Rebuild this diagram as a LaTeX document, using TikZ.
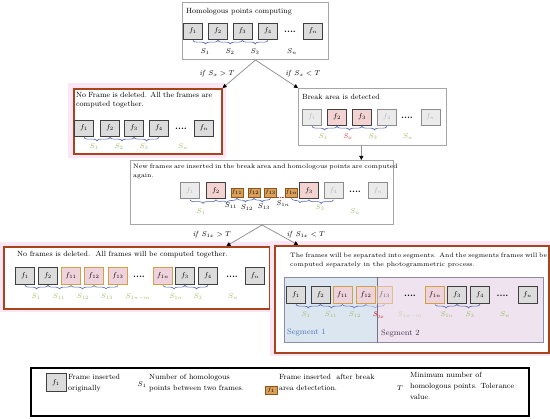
\documentclass[tikz,border=0pt]{standalone}
\usetikzlibrary{arrows.meta,decorations.pathreplacing,calc}
\definecolor{boxgray}{HTML}{A6A6A6}
\definecolor{boxred}{HTML}{A8441C}
\definecolor{halo}{HTML}{FCE6F6}
\definecolor{frb}{HTML}{404040}
\definecolor{frf}{HTML}{DCDCDC}
\definecolor{fadeb}{HTML}{8C8C8C}
\definecolor{fadef}{HTML}{EBEBEB}
\definecolor{fadet}{HTML}{B4B4B4}
\definecolor{pinkf}{HTML}{F3D2D2}
\definecolor{smb}{HTML}{8E5418}
\definecolor{smf}{HTML}{D9A05B}
\definecolor{insb}{HTML}{D2A048}
\definecolor{insf}{HTML}{EFD3DC}
\definecolor{bracecol}{HTML}{5468B4}
\definecolor{sgreen}{HTML}{9BBB59}
\definecolor{sred}{HTML}{D03A3A}
\definecolor{lineg}{HTML}{8A8A8A}
\definecolor{seg1f}{HTML}{DCE6F1}
\definecolor{seg2f}{HTML}{EEE3EE}
\definecolor{segb}{HTML}{8C8CA8}
\definecolor{seg1t}{HTML}{4A78B8}
\definecolor{seg2t}{HTML}{4A3458}
\begin{document}
\begin{tikzpicture}[x=1pt,y=-1pt,
 graybox/.style={draw=boxgray, line width=1pt, fill=white, inner sep=0},
 redbox/.style={draw=boxred, line width=1.6pt, fill=white, inner sep=0},
 fr/.style={draw=frb, fill=frf, line width=0.8pt, minimum width=19pt, minimum height=16pt, inner sep=0, font=\fontsize{7}{8}\selectfont},
 frfade/.style={fr, draw=fadeb, fill=fadef, text=fadet},
 frpink/.style={fr, fill=pinkf},
 frsm/.style={draw=smb, fill=smf, line width=0.7pt, minimum width=12pt, minimum height=9pt, inner sep=0, font=\fontsize{5}{5}\selectfont},
 frins/.style={fr, draw=insb, fill=insf, line width=0.9pt},
 dotsn/.style={font=\fontsize{9}{9}\selectfont\bfseries, inner sep=0},
 bracel/.style={draw=bracecol, line width=0.6pt, decorate, decoration={brace, mirror, amplitude=3.5pt}},
 sl/.style={font=\fontsize{7}{8}\selectfont, inner sep=0},
 sg/.style={sl, text=sgreen},
 txt/.style={font=\fontsize{7.5}{9}\selectfont, inner sep=0},
 cond/.style={font=\fontsize{7.5}{9}\selectfont, inner sep=0},
 arr/.style={draw=lineg, line width=0.7pt, -{Triangle[length=4pt,width=4pt,black]}},
]
\useasboundingbox (0,0) rectangle (550,419);
\fill[white] (0,0) rectangle (550,419);

% ---------- top box
\node[graybox, anchor=north west, minimum width=146, minimum height=57] (top) at (182,2) {};
\node[txt, anchor=west] (ttl) at (186,12) {Homologous points computing};
\node[fr] (t1) at (193,31) {$f_1$};
\node[fr] (t2) at (218,31) {$f_2$};
\node[fr] (t3) at (242.5,31) {$f_3$};
\node[fr] (t4) at (268,31) {$f_4$};
\node[dotsn] (td) at (290,32) {....};
\node[fr] (tn) at (313,31) {$f_n$};
\draw[bracel] ([yshift=-1pt]t1.south) -- ([yshift=-1pt]t2.south);
\draw[bracel] ([yshift=-1pt]t2.south) -- ([yshift=-1pt]t3.south);
\draw[bracel] ([yshift=-1pt]t3.south) -- ([yshift=-1pt]t4.south);
\node[sl] (ts1) at (205,52) {$S_1$};
\node[sl] (ts2) at (230,52) {$S_2$};
\node[sl] (ts3) at (255,52) {$S_3$};
\node[sl] (tsn) at (292,52) {$S_n$};

% ---------- left red box
\fill[halo] (68,83) rectangle (226,158);
\node[redbox, anchor=north west, minimum width=148, minimum height=65] (lbox) at (73,88) {};
\node[txt, anchor=north west, align=left] (ltxt) at (76,92) {\makebox[136pt][s]{No Frame is deleted. All the frames are}\\computed together.};
\node[fr] (l1) at (84,128) {$f_1$};
\node[fr] (l2) at (110,128) {$f_2$};
\node[fr] (l3) at (134,128) {$f_3$};
\node[fr] (l4) at (159,128) {$f_4$};
\node[dotsn] (ld) at (181,129) {....};
\node[fr] (ln) at (204,128) {$f_n$};
\draw[bracel] ([yshift=-1pt]l1.south) -- ([yshift=-1pt]l2.south);
\draw[bracel] ([yshift=-1pt]l2.south) -- ([yshift=-1pt]l3.south);
\draw[bracel] ([yshift=-1pt]l3.south) -- ([yshift=-1pt]l4.south);
\node[sg] (ls1) at (94,147) {$S_1$};
\node[sg] (ls2) at (119,147) {$S_2$};
\node[sg] (ls3) at (144,147) {$S_3$};
\node[sg] (lsn) at (183,147) {$S_n$};

% ---------- right gray box
\node[graybox, anchor=north west, minimum width=148, minimum height=57] (rbox) at (298,88) {};
\node[txt, anchor=west] (rtl) at (302,97) {Break area is detected};
\node[frfade] (r1) at (312,117) {$f_1$};
\node[frpink] (r2) at (337,117) {$f_2$};
\node[frpink] (r3) at (362,117) {$f_3$};
\node[frfade] (r4) at (387,117) {$f_4$};
\node[dotsn] (rd) at (407,118) {....};
\node[frfade] (rn) at (430.5,117) {$f_n$};
\draw[bracel] ([yshift=-1pt]r1.south) -- ([yshift=-1pt]r2.south);
\draw[bracel] ([yshift=-1pt]r2.south) -- ([yshift=-1pt]r3.south);
\draw[bracel] ([yshift=-1pt]r3.south) -- ([yshift=-1pt]r4.south);
\node[sg] (rs1) at (323,137) {$S_1$};
\node[sl, text=sred] (rsx) at (348,137) {$S_x$};
\node[sg] (rs3) at (373,137) {$S_3$};
\node[sg] (rsn) at (408,137) {$S_n$};

% ---------- middle box
\node[graybox, anchor=north west, minimum width=263, minimum height=64] (mid) at (130,160) {};
\node[txt, anchor=north west, align=left, font=\fontsize{6.4}{9}\selectfont] (mtxt) at (133,164) {\makebox[252pt][s]{New frames are inserted in the break area and homologous points are computed}\\again.};
\node[frfade] (m1) at (190,190.5) {$f_1$};
\node[frpink] (m2) at (216,190.5) {$f_2$};
\node[frsm] (m11) at (237,192.5) {$f_{11}$};
\node[frsm] (m12) at (254,192.5) {$f_{12}$};
\node[frsm] (m13) at (270.5,192.5) {$f_{13}$};
\node[frsm] (m1n) at (291.5,192.5) {$f_{1n}$};
\node[frpink] (m3) at (309,190.5) {$f_3$};
\node[frfade] (m4) at (333.5,190.5) {$f_4$};
\node[dotsn] (md) at (355,191.5) {....};
\node[frfade] (mn) at (378,190.5) {$f_n$};
\draw[bracel] ([yshift=-1pt]m1.south) -- ([yshift=-1pt]m2.south);
\draw[bracel] ([yshift=-1pt]m2.south) -- ([yshift=-1pt]m11.south);
\draw[bracel] ([yshift=-1pt]m11.south) -- ([yshift=-1pt]m12.south);
\draw[bracel] ([yshift=-1pt]m12.south) -- ([yshift=-1pt]m13.south);
\draw[sred, densely dotted, line width=0.6pt] (m13.south east) -- (m1n.south west);
\draw[bracel] ([yshift=-1pt]m1n.south) -- ([yshift=-1pt]m3.south);
\draw[bracel] ([yshift=-1pt]m3.south) -- ([yshift=-1pt]m4.south);
\node[sg] (ms1) at (201,212) {$S_1$};
\node[sl] (ms11) at (231,206) {$S_{11}$};
\node[sl] (ms12) at (247,208) {$S_{12}$};
\node[sl] (ms13) at (264,207) {$S_{13}$};
\node[sl] (ms1n) at (283,204) {$S_{1n}$};
\node[sg] (ms3) at (320,208) {$S_3$};
\node[sg] (msn) at (355,212) {$S_n$};

% ---------- lower left red box
\fill[halo] (0,242) rectangle (273,312);
\node[redbox, anchor=north west, minimum width=266, minimum height=62] (llb) at (3,246) {};
\node[txt, anchor=west] (lltxt) at (17,255) {No frames is deleted.\ \ All frames will be computed together.};
\node[fr, minimum height=17] (a1) at (25,275.5) {$f_1$};
\node[fr, minimum height=17] (a2) at (48,275.5) {$f_2$};
\node[frins, minimum height=17] (a11) at (71,275.5) {$f_{11}$};
\node[frins, minimum height=17] (a12) at (94,275.5) {$f_{12}$};
\node[frins, minimum height=17] (a13) at (118,275.5) {$f_{13}$};
\node[dotsn] (ad1) at (139,277) {....};
\node[frins, minimum height=17] (a1n) at (163,275.5) {$f_{1n}$};
\node[fr, minimum height=17] (a3) at (185,275.5) {$f_3$};
\node[fr, minimum height=17] (a4) at (208,275.5) {$f_4$};
\node[dotsn] (ad2) at (232,277) {....};
\node[fr, minimum height=17] (an) at (255,275.5) {$f_n$};
\draw[bracel] ([yshift=-1pt]a1.south) -- ([yshift=-1pt]a2.south);
\draw[bracel] ([yshift=-1pt]a2.south) -- ([yshift=-1pt]a11.south);
\draw[bracel] ([yshift=-1pt]a11.south) -- ([yshift=-1pt]a12.south);
\draw[bracel] ([yshift=-1pt]a12.south) -- ([yshift=-1pt]a13.south);
\draw[bracel] ([yshift=-1pt]a1n.south) -- ([yshift=-1pt]a3.south);
\draw[bracel] ([yshift=-1pt]a3.south) -- ([yshift=-1pt]a4.south);
\node[sg] (as1) at (36,297) {$S_1$};
\node[sg] (as11) at (59,297) {$S_{11}$};
\node[sg] (as12) at (83,297) {$S_{12}$};
\node[sg] (as13) at (107,297) {$S_{13}$};
\node[sg] (as1nm) at (138,297) {$S_{1n-m}$};
\node[sg] (as1n) at (176,297) {$S_{1n}$};
\node[sg] (as3) at (198,297) {$S_3$};
\node[sg] (asn) at (233,297) {$S_n$};

% ---------- lower right red box
\fill[halo] (270,241) rectangle (550,356);
\node[redbox, anchor=north west, minimum width=274, minimum height=107] (lrb) at (274,245) {};
\node[txt, anchor=north west, align=left, font=\fontsize{6.4}{9}\selectfont] (lrtxt) at (290,253) {\makebox[242pt][s]{The frames will be separated into segments. And the segments frames will be}\\computed separately in the photogrammetric process.};
\node[anchor=north west, fill=seg1f, inner sep=0, minimum width=93, minimum height=65] (sg1) at (284,277) {};
\node[anchor=north west, fill=seg2f, inner sep=0, minimum width=166, minimum height=65] (sg2) at (377,277) {};
\draw[segb, line width=0.9pt] (sg1.north west) rectangle (sg2.south east);
\draw[segb!80!black, line width=0.9pt] (sg1.north east) -- (sg1.south east);
\node[fr, minimum height=17] (b1) at (296,294.5) {$f_1$};
\node[fr, minimum height=17] (b2) at (320.5,294.5) {$f_2$};
\node[frins, minimum height=17] (b11) at (342.5,294.5) {$f_{11}$};
\node[frins, minimum height=17] (b12) at (366,294.5) {$f_{12}$};
\node[frins, minimum height=17, minimum width=15, opacity=0.55] (b13) at (384.5,294.5) {$f_{13}$};
\node[dotsn] (bd1) at (410,296) {....};
\node[frins, minimum height=17] (b1n) at (435,294.5) {$f_{1n}$};
\node[fr, minimum height=17] (b3) at (457,294.5) {$f_3$};
\node[fr, minimum height=17] (b4) at (480,294.5) {$f_4$};
\node[dotsn] (bd2) at (502.5,296) {....};
\node[fr, minimum height=17] (bn) at (527.5,294.5) {$f_n$};
\draw[bracel] ([yshift=-1pt]b1.south) -- ([yshift=-1pt]b2.south);
\draw[bracel] ([yshift=-1pt]b2.south) -- ([yshift=-1pt]b11.south);
\draw[bracel] ([yshift=-1pt]b11.south) -- ([yshift=-1pt]b12.south);
\draw[bracel, opacity=0.5] ([yshift=-1pt]b12.south) -- ([yshift=-1pt]b13.south);
\draw[bracel] ([yshift=-1pt]b1n.south) -- ([yshift=-1pt]b3.south);
\draw[bracel] ([yshift=-1pt]b3.south) -- ([yshift=-1pt]b4.south);
\node[sg] (bs1) at (306,315) {$S_1$};
\node[sg] (bs11) at (331,315) {$S_{11}$};
\node[sg] (bs12) at (355,315) {$S_{12}$};
\node[sl, text=sred, font=\fontsize{7}{8}\selectfont\bfseries\itshape] (bs1x) at (378,315) {S\raisebox{-1.5pt}{\fontsize{5}{5}\selectfont 1x}};
\node[sg, opacity=0.5] (bs1nm) at (410,315) {$S_{1n-m}$};
\node[sg] (bs1n) at (447,315) {$S_{1n}$};
\node[sg] (bs3) at (470,315) {$S_3$};
\node[sg] (bsn) at (505,315) {$S_n$};
\node[anchor=west, inner sep=0, text=seg1t, font=\fontsize{8}{9}\selectfont] (sg1l) at (287,333) {Segment 1};
\node[anchor=west, inner sep=0, text=seg2t, font=\fontsize{8}{9}\selectfont] (sg2l) at (381,334) {Segment 2};

% ---------- connectors
\draw[arr] (top.south) -- (lbox.north east);
\draw[arr] (top.south) -- (rbox.north west);
\node[cond] (c1) at (217,74) {\textit{if} $S_x > T$};
\node[cond] (c2) at (303,74) {\textit{if} $S_x < T$};
\coordinate (rbx) at ($(rbox.south west)!0.425!(rbox.south east)$);
\draw[arr] (rbx) -- (rbx |- mid.north);
\coordinate (llt) at ($(llb.north west)!0.835!(llb.north east)$);
\coordinate (lrt) at ($(lrb.north west)!0.088!(lrb.north east)$);
\draw[arr] (mid.south) -- (llt);
\draw[arr] (mid.south) -- (lrt);
\node[cond] (c3) at (212,235) {\textit{if} $S_{1x} > T$};
\node[cond] (c4) at (306,235) {\textit{if} $S_{1x} < T$};

% ---------- legend
\node[draw=black, line width=1.6pt, anchor=north west, minimum width=498, minimum height=48, inner sep=0] (leg) at (30,367) {};
\node[fr, minimum width=20, minimum height=18] (lgf) at (56,382.5) {$f_1$};
\node[txt, anchor=north west, align=left, font=\fontsize{7.5}{11}\selectfont] (lgt1) at (68,374) {Frame inserted\\originally};
\node[sl] (lgs) at (142,385) {$S_1$};
\node[txt, anchor=north west, align=left, font=\fontsize{7.5}{11}\selectfont] (lgt2) at (149,374) {Number of homologous\\points between two frames.};
\node[frsm, minimum width=12, minimum height=8] (lgo) at (271,390.5) {$f_{1}$};
\node[txt, anchor=north west, align=left, font=\fontsize{7.5}{11}\selectfont] (lgt3) at (279,374) {Frame inserted\ \ after break\\area detectetion.};
\node[sl] (lgT) at (400,388) {$T$};
\node[txt, anchor=north west, align=left, font=\fontsize{7.5}{11}\selectfont] (lgt4) at (410,372) {Minimum number of\\homologous points. Tolerance\\value.};
\end{tikzpicture}
\end{document}
